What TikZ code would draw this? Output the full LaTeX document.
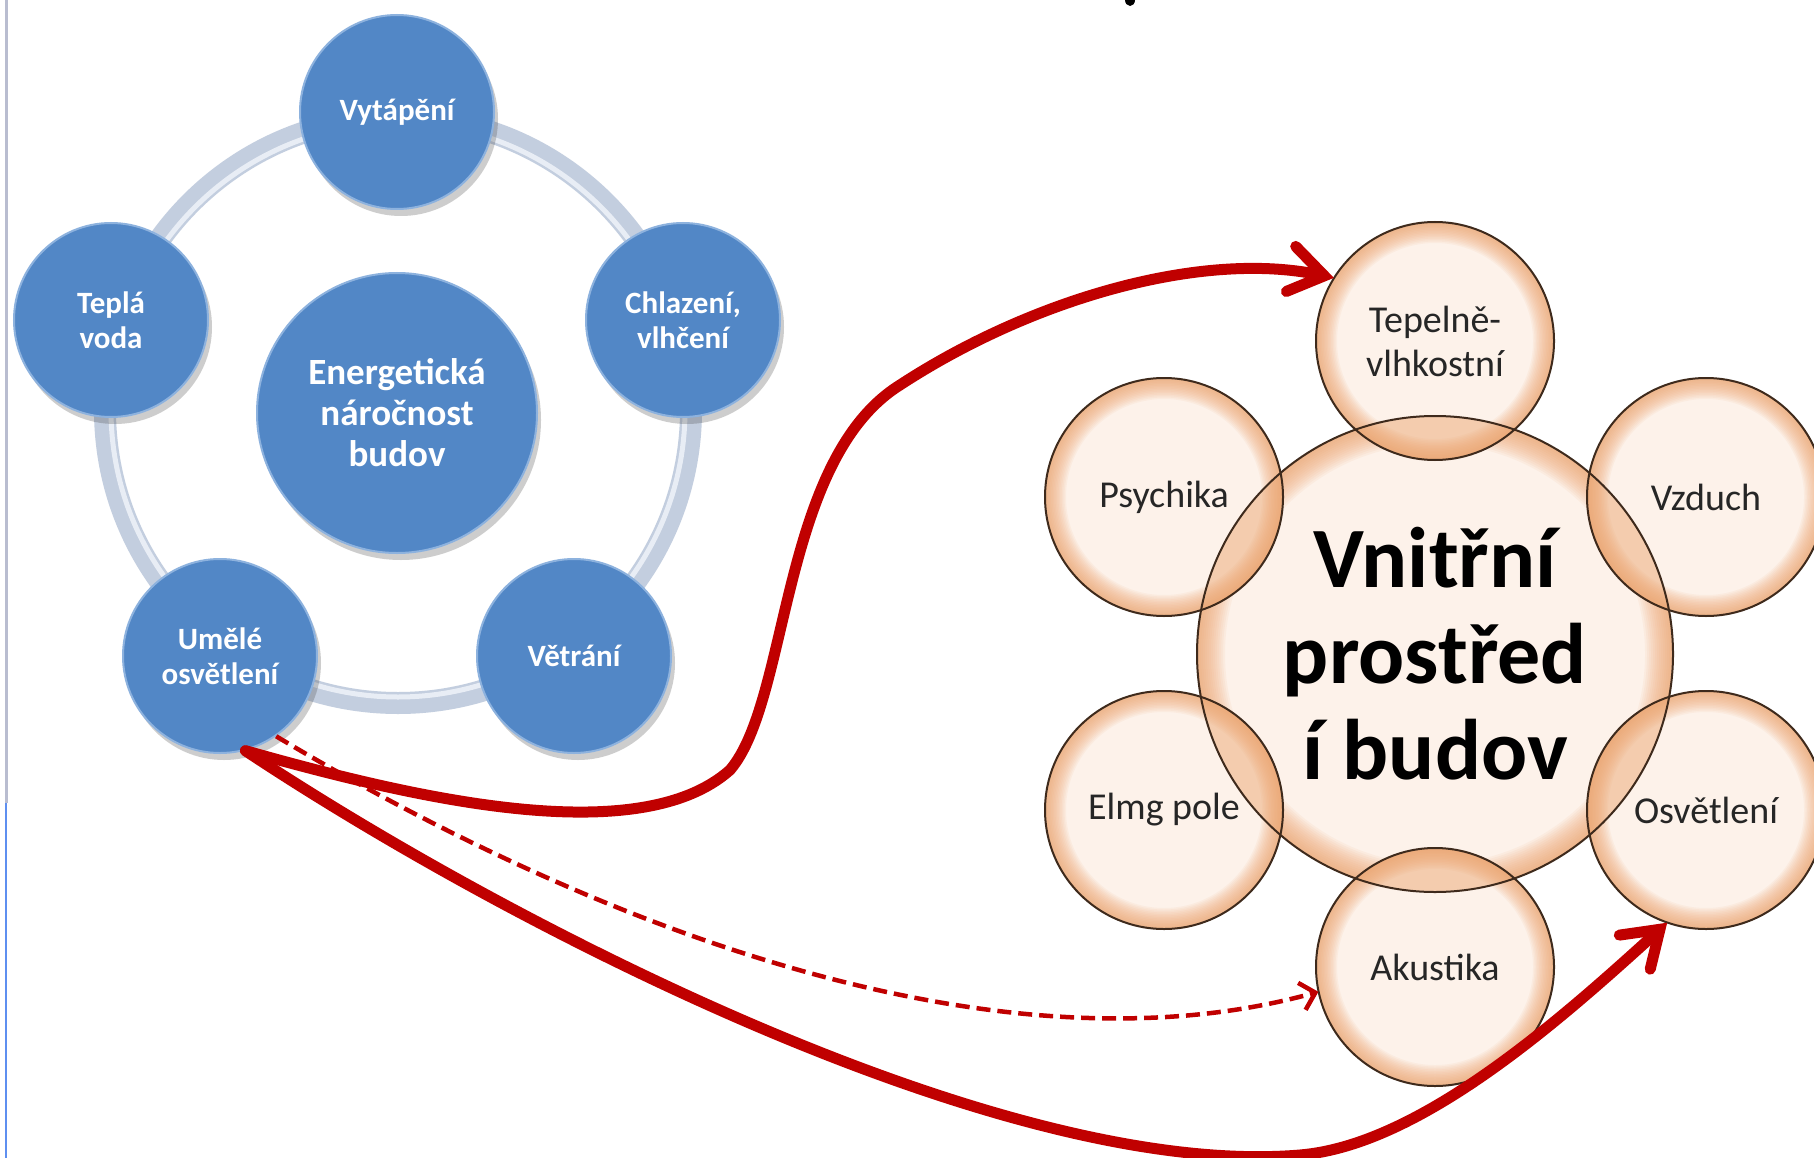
\documentclass[tikz,border=0pt]{standalone}
\usepackage{fontspec}
\setmainfont{Carlito}
\usetikzlibrary{arrows.meta,shadows}
\definecolor{blueIn}{HTML}{5287C6}
\definecolor{blueOut}{HTML}{3B69A6}
\definecolor{blueRim}{HTML}{8DB2DE}
\definecolor{ringCol}{HTML}{C3CEDF}
\definecolor{ringHi}{HTML}{E8EDF5}
\definecolor{orIn}{HTML}{FDF2EA}
\definecolor{orOut}{HTML}{EEA46E}
\definecolor{lensCol}{HTML}{EA9F66}
\definecolor{orLine}{HTML}{3E2A1C}
\definecolor{arrRed}{HTML}{C00000}
\definecolor{leftGray}{HTML}{B9BDD0}
\definecolor{leftBlue}{HTML}{5E8FF0}
\begin{document}
\begin{tikzpicture}[x=1pt,y=-1pt,
  bluenode/.style={circle, minimum size=194pt, inner sep=0pt,
    fill=blueIn, draw=blueRim, line width=2pt,
    text=white, align=center, font=\fontsize{31}{35}\selectfont\bfseries,
    drop shadow={shadow xshift=4pt, shadow yshift=-7pt, opacity=0.28, fill=black!70}},
  bignode/.style={bluenode, minimum size=280pt, font=\fontsize{37}{41}\selectfont\bfseries},
  ornode/.style={circle, minimum size=238pt, inner sep=0pt,
    text=black!85, align=center, font=\fontsize{38}{44}\selectfont},
  orbig/.style={ornode, minimum size=476pt,
    font=\fontsize{86}{96}\selectfont\bfseries, text=black},
  orline/.style={draw=orLine, line width=2pt},
  rimstroke/.style={draw=orOut, opacity=0.085},
  redarrow/.style={draw=arrRed, line width=11pt, line cap=round,
    -{Straight Barb[length=34pt, width=46pt, line cap=round]}},
  reddash/.style={draw=arrRed, line width=4.5pt, dash pattern=on 14pt off 7pt,
    -{Straight Barb[length=14pt, width=28pt]}}
]
\useasboundingbox (0,0) rectangle (1814,1158);
\fill[white] (0,0) rectangle (1814,1158);
% left edge line
\draw[leftGray, line width=3pt] (6,0) -- (6,803);
\draw[leftBlue, line width=2pt] (6,803) -- (6,1158);
% tiny cut-off mark at top
\fill[black] (1130,0) ellipse[x radius=5, y radius=6];

% ring
\draw[ringCol, line width=22pt] (398,410) circle[radius=293pt];
\draw[ringHi, line width=5pt] (398,410) circle[radius=287pt];

% blue nodes
\node[bignode] (ene) at (397,413) {Energetická\\náročnost\\budov};
\node[bluenode] (vyt) at (397,112) {Vytápění};
\node[bluenode] (chl) at (683,320) {Chlazení,\\vlhčení};
\node[bluenode] (vet) at (574,656) {Větrání};
\node[bluenode] (ume) at (220,656) {Umělé\\osvětlení};
\node[bluenode] (tep) at (111,320) {Teplá\\voda};

% orange shapes: big circle
\begin{scope}
  \clip (1435,654) circle[radius=238pt];
  \fill[orIn] (1435,654) circle[radius=238pt];
  \foreach \w in {4,8,...,56}
    \draw[rimstroke, line width=\w pt] (1435,654) circle[radius=238pt];
\end{scope}
% small circles
\foreach \x/\y in {1435/341, 1164/497, 1706/497, 1164/810, 1706/810, 1435/967}{
  \begin{scope}
    \clip (\x,\y) circle[radius=119pt];
    \fill[orIn] (\x,\y) circle[radius=119pt];
    \foreach \w in {3,6,...,42}
      \draw[rimstroke, line width=\w pt] (\x,\y) circle[radius=119pt];
  \end{scope}}
% overlap lenses
\foreach \x/\y in {1435/341, 1164/497, 1706/497, 1164/810, 1706/810, 1435/967}{
  \begin{scope}
    \clip (\x,\y) circle[radius=119pt];
    \fill[lensCol, opacity=0.45] (1435,654) circle[radius=238pt];
  \end{scope}}
% outlines
\draw[orline] (1435,654) circle[radius=238pt];
\foreach \x/\y in {1435/341, 1164/497, 1706/497, 1164/810, 1706/810, 1435/967}
  \draw[orline] (\x,\y) circle[radius=119pt];

% orange nodes (text)
\node[orbig] (vnit) at (1435,654) {Vnitřní\\prostřed\\í budov};
\node[ornode] (tv) at (1435,341) {Tepelně-\\vlhkostní};
\node[ornode] (psy) at (1164,497) {Psychika};
\node[ornode] (vzd) at (1706,497) {Vzduch};
\node[ornode] (elm) at (1164,810) {Elmg pole};
\node[ornode] (osv) at (1706,810) {Osvětlení};
\node[ornode] (aku) at (1435,967) {Akustika};

% arrows
\draw[reddash] (ume.-55) .. controls (600,930) and (1000,1080) .. (aku.192);
\draw[redarrow] (ume.-75) .. controls (420,800) and (640,850) .. (730,770)
  .. controls (790,700) and (780,460) .. (900,385)
  .. controls (1030,300) and (1200,250) .. (tv.148);
\draw[redarrow] (ume.-75) .. controls (500,920) and (1000,1180) .. (1300,1155)
  .. controls (1420,1145) and (1560,1020) .. (osv.-109);
\end{tikzpicture}
\end{document}
